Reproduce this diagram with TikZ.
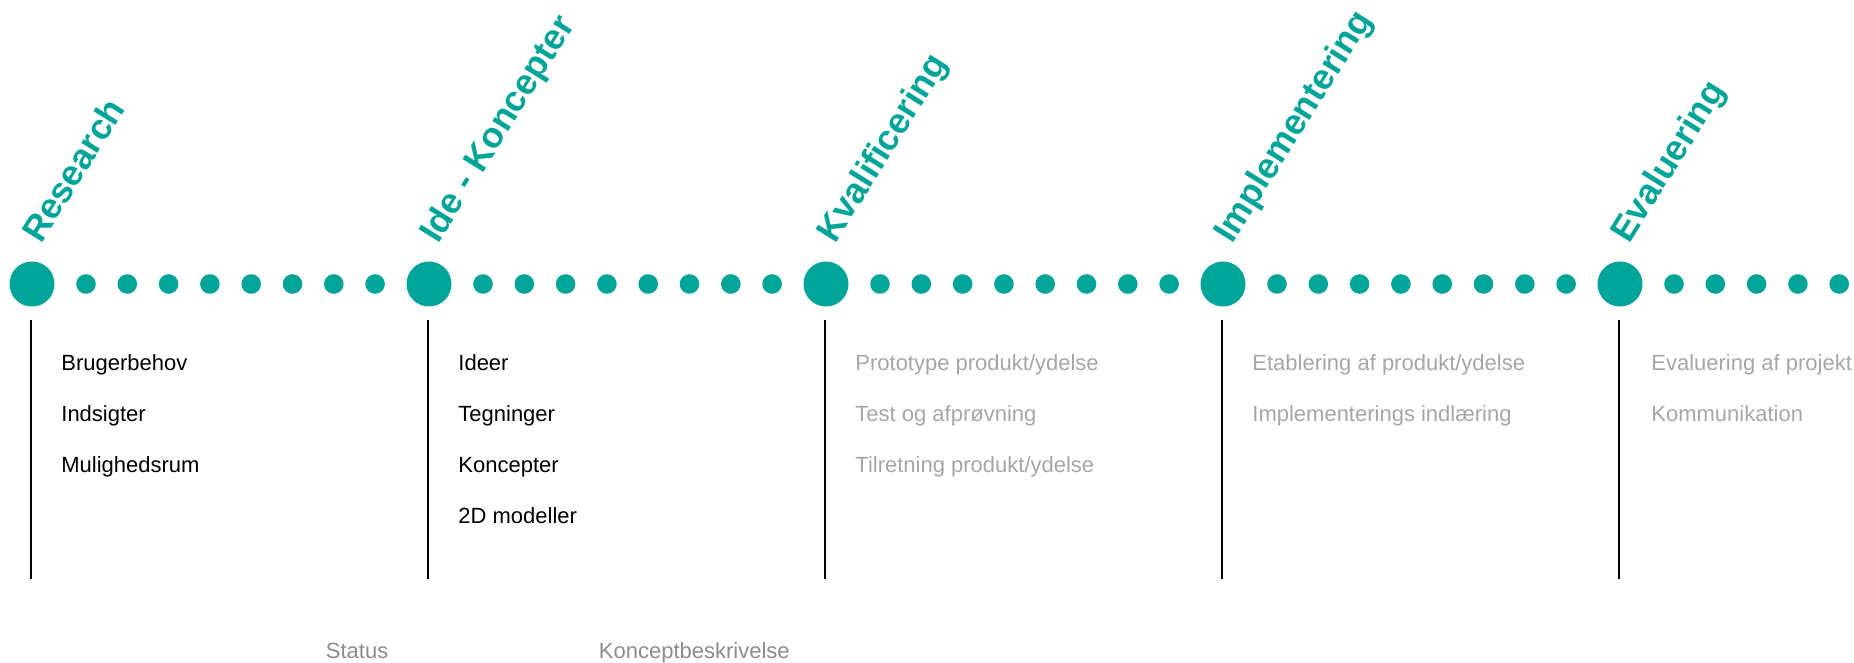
\documentclass[tikz,border=0pt]{standalone}
\usepackage{fontspec}
\setmainfont{Liberation Sans}
\definecolor{fasefarve}{RGB}{0,164,152}
\definecolor{lysgraa}{RGB}{166,166,166}
\definecolor{mellemgraa}{RGB}{140,140,140}

\begin{document}
\begin{tikzpicture}[x=0.5pt,y=-0.5pt,
  stor/.style={circle,fill=fasefarve,inner sep=0pt,minimum size=22.5pt},
  lille/.style={circle,fill=fasefarve,inner sep=0pt,minimum size=9.8pt},
  overskrift/.style={anchor=base west,inner sep=0pt,rotate=58,text=fasefarve,font=\bfseries\fontsize{17.8}{20}\selectfont},
  punkt/.style={anchor=base west,inner sep=0pt,font=\fontsize{11}{13}\selectfont},
  graa/.style={punkt,text=lysgraa},
  skel/.style={line width=1pt}]
\useasboundingbox (0,0) rectangle (1854,663);
% faser med prikker og skillelinjer
\foreach \navn/\x/\antal/\titel in {research/32/7/Research,ide/429/7/Ide - Koncepter,kval/826/7/Kvalificering,impl/1223/7/Implementering,eval/1620/4/Evaluering}
{
  \node[stor] (\navn) at (\x,284) {};
  \node[overskrift] (\navn-titel) at (\x+9,245) {\titel};
  \foreach \i in {0,...,\antal}
    \node[lille] (\navn-\i) at (\x+54+41.3*\i,284) {};
  \coordinate (\navn-top) at (\x-1,320);
  \coordinate (\navn-bund) at (\x-1,579);
  \draw[skel] (\navn-top) -- (\navn-bund);
}
% punkter under hver fase
\foreach \t [count=\i] in {Brugerbehov,Indsigter,Mulighedsrum}
  \node[punkt] (research-p\i) at (61,320.3+50.7*\i) {\t};
\foreach \t [count=\i] in {Ideer,Tegninger,Koncepter,2D modeller}
  \node[punkt] (ide-p\i) at (458,320.3+50.7*\i) {\t};
\foreach \t [count=\i] in {Prototype produkt/ydelse,Test og afprøvning,Tilretning produkt/ydelse}
  \node[graa] (kval-p\i) at (855,320.3+50.7*\i) {\t};
\foreach \t [count=\i] in {Etablering af produkt/ydelse,Implementerings indlæring}
  \node[graa] (impl-p\i) at (1252,320.3+50.7*\i) {\t};
\foreach \t [count=\i] in {Evaluering af projekt,Kommunikation}
  \node[graa] (eval-p\i) at (1651,320.3+50.7*\i) {\t};

\node[punkt,text=mellemgraa] (status) at (325.5,658) {Status};
\node[punkt,text=mellemgraa] (beskrivelse) at (598.5,658) {Konceptbeskrivelse};
\end{tikzpicture}
\end{document}
